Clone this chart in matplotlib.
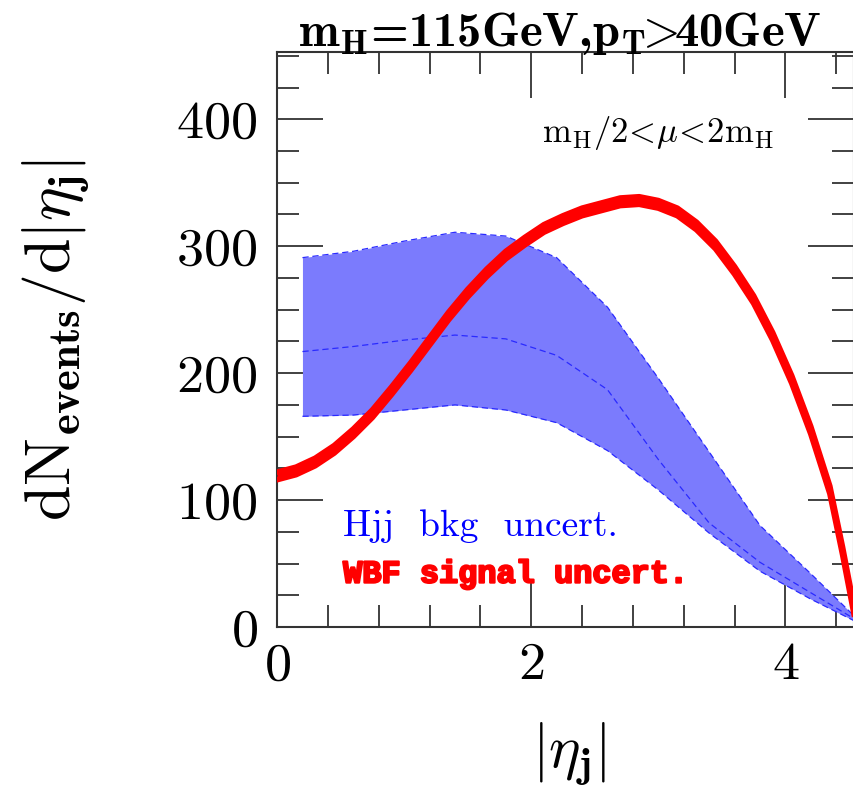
import numpy as np
import matplotlib.pyplot as plt
import matplotlib.patheffects as pe
from matplotlib.ticker import MultipleLocator

# Hjj background band (binned in |eta_j|)
bkg_eta = [0.2, 0.6, 1.0, 1.4, 1.8, 2.2, 2.6, 3.0, 3.4, 3.8, 4.2, 4.6]
bkg_hi = [291, 296, 304, 311, 308, 291, 252, 196, 138, 80, 42, 3]
bkg_mid = [217, 221, 226, 230, 227, 214, 187, 132, 82, 51, 27, 3]
bkg_lo = [166, 167, 171, 175, 171, 161, 139, 108, 74, 44, 22, 2]

# WBF signal band
sig_eta = [0.0, 0.15, 0.3, 0.45, 0.6, 0.75, 0.9, 1.05, 1.2, 1.35,
           1.5, 1.65, 1.8, 1.95, 2.1, 2.25, 2.4, 2.55, 2.7, 2.85,
           3.0, 3.15, 3.3, 3.45, 3.6, 3.75, 3.9, 4.05, 4.2, 4.35,
           4.45, 4.55]
sig_hi = [122, 126, 133, 143, 156, 171, 189, 208, 228, 248,
          266, 282, 296, 307, 317, 324, 330, 334, 338, 339,
          336, 330, 319, 304, 284, 261, 232, 198, 158, 111,
          63, 11]
sig_lo = [116, 120, 127, 137, 150, 165, 183, 202, 222, 242,
          260, 276, 290, 301, 311, 318, 324, 328, 332, 333,
          330, 324, 313, 298, 278, 255, 226, 192, 152, 105,
          57, 5]

plt.rcParams['mathtext.fontset'] = 'cm'
plt.rcParams['font.family'] = 'cmr10'
plt.rcParams['axes.formatter.use_mathtext'] = True

fig = plt.figure(figsize=(8.54, 7.88), dpi=100)
ax = fig.add_axes([0.3244, 0.2043, 0.6756, 0.7297])

ax.fill_between(bkg_eta, bkg_lo, bkg_hi, color='#7b7bfd', lw=0, zorder=3)
for arr in (bkg_lo, bkg_mid, bkg_hi):
    ax.plot(bkg_eta, arr, color='#2a2aff', lw=0.9, ls=(0, (5, 3)), zorder=3)

ax.fill_between(sig_eta, sig_lo, sig_hi, color='red', lw=0, zorder=4)
ax.plot(sig_eta, sig_lo, color='red', lw=4, zorder=4, solid_joinstyle='round')
ax.plot(sig_eta, sig_hi, color='red', lw=4, zorder=4, solid_joinstyle='round')

ax.set_xlim(0, 4.54)
ax.set_ylim(0, 453)
ax.xaxis.set_major_locator(MultipleLocator(2))
ax.xaxis.set_minor_locator(MultipleLocator(0.4))
ax.yaxis.set_major_locator(MultipleLocator(100))
ax.yaxis.set_minor_locator(MultipleLocator(25))

for s in ax.spines.values():
    s.set_color('#333333')
    s.set_linewidth(1.5)
ax.tick_params(which='both', direction='in', top=True, right=True,
               color='#333333', width=1.3, labelsize=39)
ax.tick_params(which='major', length=33)
ax.tick_params(which='minor', length=16)
ax.tick_params(axis='y', pad=14)
ax.tick_params(axis='x', pad=11)

ax.text(3.0, 389, r'$\mathrm{m_H/2}\!{<}\!\mu\!{<}\!\mathrm{2m_H}$',
        fontsize=25, ha='center', va='center')
ax.text(0.52, 72, 'Hjj  bkg  uncert.', fontsize=27, color='#0000ff',
        fontfamily='cmr10', zorder=5)
ax.text(0.52, 35, 'WBF signal uncert.', fontsize=23, color='red',
        fontfamily='Liberation Mono', fontweight='bold', zorder=5,
        path_effects=[pe.withStroke(linewidth=1.6, foreground='red')])

fig.text(0.656, 0.9416,
         r'm$_\mathbf{H}$=115GeV,p$_\mathbf{T}\!\!\mathbf{>}\!\!$40GeV',
         fontsize=35, fontfamily='cmb10', ha='center', va='baseline')
fig.text(0.067, 0.568,
         r'$\mathrm{dN}_{\mathbf{events}}/\mathrm{d}|\eta_{\mathbf{j}}|$',
         fontsize=46, rotation=90, ha='center', va='center')
fig.text(0.666, 0.043, r'$|\eta_{\mathbf{j}}|$', fontsize=43,
         ha='center', va='center')

plt.savefig('out.png', dpi=100)
plt.close('all')
